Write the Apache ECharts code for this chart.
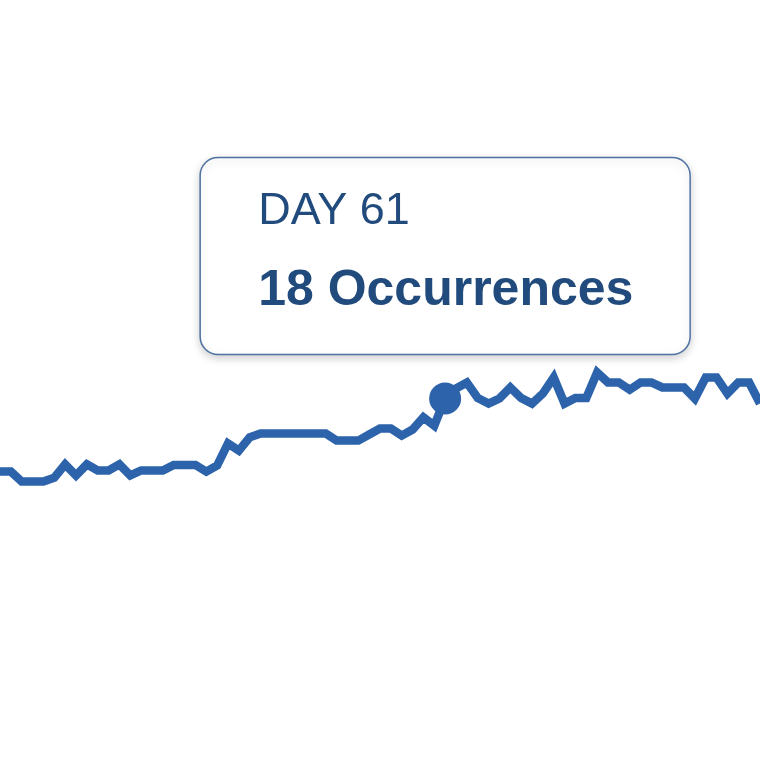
<!DOCTYPE html>
<html>
<head>
<meta charset="utf-8">
<title>Occurrences per day</title>
<script src="https://cdn.jsdelivr.net/npm/echarts@6/dist/echarts.min.js"></script>
<style>
  html, body { margin: 0; padding: 0; background: #ffffff; }
  #chart { width: 760px; height: 760px; }
</style>
</head>
<body>
<div id="chart"></div>
<script>
// visible window: day 20 .. day 90
const days = [];
for (let d = 20; d <= 90; d++) days.push(d);

// occurrences, one per day
const occurrences = [
  4.8, 4.8, 3.0, 3.0, 3.0, 3.7, 6.1, 4.1, 6.1, 5.0,
  5.0, 6.1, 4.1, 5.0, 5.0, 5.0, 6.0, 6.0, 6.0, 4.8,
  5.9, 9.9, 8.6, 11.0, 11.7, 11.7, 11.7, 11.7, 11.7, 11.7,
  11.7, 10.4, 10.4, 10.4, 11.5, 12.6, 12.6, 11.3, 12.4, 14.6,
  13.1, 18.0, 19.8, 20.9, 18.1, 17.1, 18.0, 20.0, 18.1, 17.1,
  18.9, 21.8, 17.1, 18.1, 18.1, 22.7, 20.9, 20.9, 19.6, 20.9,
  20.9, 20.0, 20.0, 20.0, 18.0, 21.8, 21.8, 18.9, 20.9, 20.9,
  17.1
];

// highlighted day shown in the callout
const focusDay = 61;

const LINE_COLOR = "#2c63aa";
const TEXT_COLOR = "#224b7d";

const focusIdx = days.indexOf(focusDay);
const points = days.map((d, i) => [d, occurrences[i]]);

const chart = echarts.init(document.getElementById("chart"), null, { renderer: "canvas" });

chart.setOption({
  animation: false,
  backgroundColor: "#ffffff",
  grid: { left: 0, right: 0, top: 0, bottom: 0 },
  xAxis: { type: "value", min: 20, max: 90, show: false },
  yAxis: { type: "value", min: -47.3, max: 90, show: false },
  series: [
    {
      type: "line",
      data: points,
      showSymbol: false,
      lineStyle: { color: LINE_COLOR, width: 8.5, join: "miter" },
      z: 2
    },
    {
      type: "scatter",
      data: [points[focusIdx]],
      symbolSize: 32,
      itemStyle: { color: LINE_COLOR, opacity: 1 },
      z: 3
    }
  ]
});

// callout box centred above the highlighted point
const [px, py] = chart.convertToPixel({ gridIndex: 0 }, points[focusIdx]);
const boxW = 490, boxH = 197;
const boxX = px - boxW / 2;
const boxY = py - 44 - boxH;

chart.setOption({
  graphic: [
    {
      type: "group",
      x: boxX,
      y: boxY,
      z: 10,
      children: [
        {
          type: "rect",
          shape: { x: 0, y: 0, width: boxW, height: boxH, r: 18 },
          style: {
            fill: "#ffffff",
            stroke: "#4d71a1",
            lineWidth: 1.5,
            shadowBlur: 8,
            shadowOffsetY: 3,
            shadowColor: "rgba(0,0,0,0.18)"
          }
        },
        {
          type: "text",
          x: 58,
          y: 54,
          style: {
            text: "DAY " + days[focusIdx],
            font: "45px 'Liberation Sans', Arial, sans-serif",
            fill: TEXT_COLOR,
            verticalAlign: "middle"
          }
        },
        {
          type: "text",
          x: 58,
          y: 134,
          style: {
            text: Math.round(occurrences[focusIdx]) + " Occurrences",
            font: "bold 50px 'Liberation Sans', Arial, sans-serif",
            fill: TEXT_COLOR,
            verticalAlign: "middle"
          }
        }
      ]
    }
  ]
});
</script>
</body>
</html>
